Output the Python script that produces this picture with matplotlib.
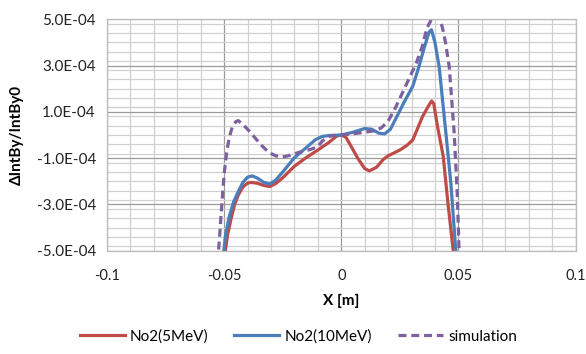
#!/usr/bin/env python3
"""Field integral deviation vs. X for the No2 magnet (measurement and simulation)."""

import matplotlib

matplotlib.use("Agg")
import matplotlib.pyplot as plt
from matplotlib.ticker import MultipleLocator, FuncFormatter

plt.rcParams["font.family"] = ["Lato", "DejaVu Sans"]

# No2 (5 MeV) measurement
x_5mev = [-0.0499, -0.0485, -0.0470, -0.0455, -0.0440, -0.0420, -0.0400, -0.0385,
          -0.0360, -0.0330, -0.0305, -0.0280, -0.0250, -0.0200, -0.0150, -0.0100,
          -0.0050, -0.0020, 0.0000, 0.0020, 0.0040, 0.0070, 0.0100, 0.0120, 0.0150,
          0.0180, 0.0200, 0.0250, 0.0280, 0.0305, 0.0347, 0.0375, 0.0386, 0.0395,
          0.0411, 0.0435, 0.0455, 0.0478, 0.0482]
y_5mev = [-5.3e-4, -4.3e-4, -3.6e-4, -3.0e-4, -2.6e-4, -2.25e-4, -2.08e-4, -2.05e-4,
          -2.08e-4, -2.18e-4, -2.23e-4, -2.1e-4, -1.85e-4, -1.35e-4, -0.98e-4, -0.65e-4,
          -0.30e-4, -0.05e-4, 0.0, -0.1e-4, -0.45e-4, -1.0e-4, -1.45e-4, -1.55e-4, -1.4e-4,
          -1.05e-4, -0.9e-4, -0.65e-4, -0.45e-4, -0.22e-4, 0.8e-4, 1.3e-4, 1.47e-4, 1.35e-4,
          0.36e-4, -0.9e-4, -2.9e-4, -5.0e-4, -5.5e-4]

# No2 (10 MeV) measurement
x_10mev = [-0.0505, -0.0495, -0.0480, -0.0460, -0.0440, -0.0420, -0.0400, -0.0380,
           -0.0360, -0.0330, -0.0305, -0.0280, -0.0250, -0.0200, -0.0150, -0.0110,
           -0.0080, -0.0050, 0.0000, 0.0050, 0.0100, 0.0130, 0.0160, 0.0185, 0.0210,
           0.0240, 0.0270, 0.0305, 0.0330, 0.0355, 0.0375, 0.0385, 0.0400, 0.0418,
           0.0447, 0.0468, 0.0489, 0.0493]
y_10mev = [-5.4e-4, -4.4e-4, -3.6e-4, -2.9e-4, -2.45e-4, -2.05e-4, -1.82e-4, -1.77e-4,
           -1.85e-4, -2.05e-4, -2.12e-4, -1.95e-4, -1.6e-4, -0.98e-4, -0.55e-4, -0.2e-4,
           -0.06e-4, -0.02e-4, 0.0, 0.12e-4, 0.28e-4, 0.25e-4, 0.08e-4, 0.05e-4, 0.25e-4,
           0.85e-4, 1.45e-4, 2.1e-4, 2.9e-4, 3.8e-4, 4.45e-4, 4.55e-4, 4.0e-4, 2.95e-4,
           0.05e-4, -2.1e-4, -5.0e-4, -5.5e-4]

# Simulation
x_sim = [-0.0528, -0.0520, -0.0510, -0.0500, -0.0490, -0.0478, -0.0465, -0.0450,
         -0.0440, -0.0425, -0.0400, -0.0370, -0.0340, -0.0310, -0.0280, -0.0250,
         -0.0220, -0.0180, -0.0130, -0.0100, -0.0080, -0.0050, 0.0000, 0.0050, 0.0100,
         0.0140, 0.0170, 0.0200, 0.0230, 0.0260, 0.0290, 0.0320, 0.0345, 0.0365,
         0.0385, 0.0400, 0.0420, 0.0435, 0.0445, 0.0461, 0.0482, 0.0495, 0.0503, 0.0506]
y_sim = [-5.5e-4, -4.5e-4, -3.0e-4, -1.7e-4, -0.8e-4, -0.1e-4, 0.35e-4, 0.58e-4,
         0.62e-4, 0.5e-4, 0.25e-4, -0.1e-4, -0.45e-4, -0.75e-4, -0.9e-4, -0.95e-4,
         -0.88e-4, -0.75e-4, -0.62e-4, -0.5e-4, -0.25e-4, -0.05e-4, 0.0, 0.05e-4, 0.12e-4,
         0.18e-4, 0.3e-4, 0.6e-4, 1.15e-4, 1.8e-4, 2.45e-4, 3.1e-4, 3.8e-4, 4.6e-4,
         5.0e-4, 5.15e-4, 5.1e-4, 4.5e-4, 4.0e-4, 2.95e-4, 0.1e-4, -2.5e-4, -5.0e-4, -5.6e-4]

x_ticks = [-0.1, -0.05, 0, 0.05, 0.1]
x_tick_labels = ["-0.1", "-0.05", "0", "0.05", "0.1"]
y_ticks = [-5e-4, -3e-4, -1e-4, 1e-4, 3e-4, 5e-4]

RED = "#BE4B48"
BLUE = "#4A7EBB"
PURPLE = "#7D60A0"


def main():
    fig = plt.figure(figsize=(5.86, 3.54), dpi=100)
    ax = fig.add_axes([0.1826, 0.2918, 0.7995, 0.6537])

    ax.plot(x_5mev, y_5mev, color=RED, lw=2.3, label="No2(5MeV)",
            solid_joinstyle="round")
    ax.plot(x_10mev, y_10mev, color=BLUE, lw=2.3, label="No2(10MeV)",
            solid_joinstyle="round")
    ax.plot(x_sim, y_sim, color=PURPLE, lw=2.3, linestyle=(0, (2.5, 1.5)),
            label="simulation")

    ax.set_xlim(-0.1, 0.1)
    ax.set_ylim(-5e-4, 5e-4)
    ax.set_xticks(x_ticks)
    ax.set_xticklabels(x_tick_labels)
    ax.set_yticks(y_ticks)
    ax.yaxis.set_major_formatter(FuncFormatter(lambda v, p: f"{v:.1E}"))
    ax.xaxis.set_minor_locator(MultipleLocator(0.01))
    ax.yaxis.set_minor_locator(MultipleLocator(0.4e-4))

    ax.grid(which="major", color="#9A9A9A", lw=0.9)
    ax.grid(which="minor", color="#D0D0D0", lw=0.9)
    ax.set_axisbelow(True)
    ax.tick_params(which="both", length=0, labelsize=11, colors="#222222")
    ax.tick_params(axis="y", pad=8)
    ax.tick_params(axis="x", pad=13, labelsize=10.5)
    for s in ax.spines.values():
        s.set_color("#BBBBBB")
        s.set_linewidth(0.9)

    ax.set_xlabel("X [m]", fontsize=11, fontweight="bold", labelpad=8)
    ax.set_ylabel("ΔIntBy/IntBy0", fontsize=11, fontweight="bold", labelpad=9)

    fig.legend(loc="lower center", bbox_to_anchor=(0.509, -0.01), ncol=3,
               frameon=False, fontsize=11, handlelength=2.95, handletextpad=0.33,
               columnspacing=1.7)

    fig.savefig("out.png", dpi=100)
    plt.close(fig)


if __name__ == "__main__":
    main()
